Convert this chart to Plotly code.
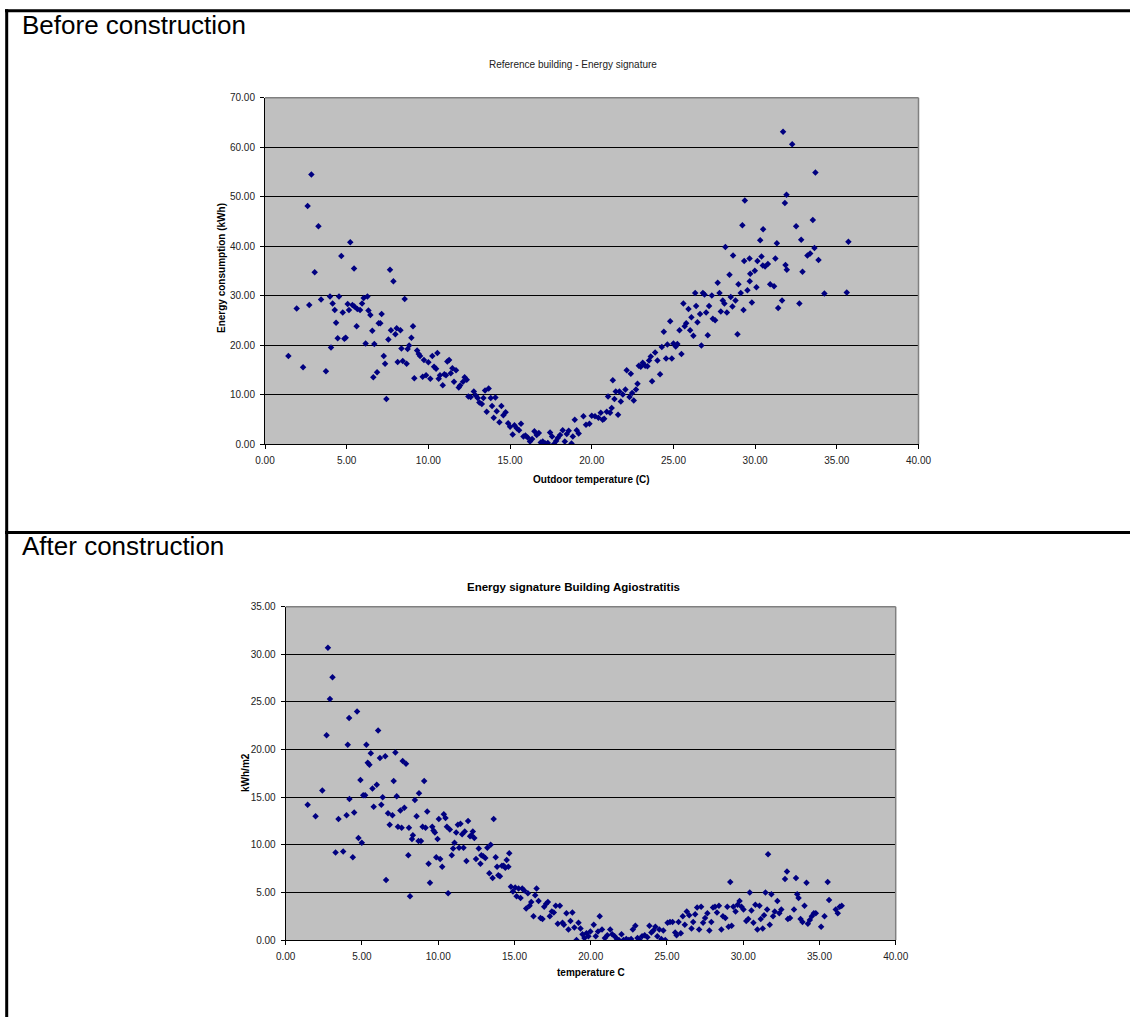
import plotly.graph_objects as go

# ---------------- data ----------------
before_points = [
    (2.84, 54.5), (2.61, 48.1), (3.27, 44.0), (5.22, 40.8), (4.67, 38.0), (5.45, 35.5), (3.04, 34.7),
    (7.65, 35.2), (7.86, 32.9),
    (1.43, 17.8), (1.94, 27.4), (2.33, 15.5), (2.71, 28.1), (3.43, 29.2), (3.73, 14.7), (3.98, 29.8),
    (4.04, 19.5), (4.14, 28.4), (4.27, 27.1), (4.35, 24.5), (4.45, 21.4), (4.53, 29.8), (4.76, 26.6),
    (4.86, 21.3), (4.94, 21.5), (5.06, 28.3), (5.14, 27.1), (5.35, 28.1), (5.47, 27.8), (5.61, 23.8),
    (5.65, 27.3), (5.82, 27.1), (5.94, 28.4), (6.04, 29.5), (6.16, 20.3), (6.27, 29.8), (6.33, 27.0),
    (6.45, 26.1), (6.57, 22.9), (6.63, 13.5), (6.69, 20.2), (6.86, 14.5), (6.96, 24.4), (7.06, 24.4),
    (7.14, 26.3), (7.27, 17.8), (7.35, 16.2), (7.43, 9.1), (7.55, 21.1), (7.71, 23.0), (7.98, 22.2),
    (8.06, 23.4), (8.12, 16.6), (8.29, 23.0), (8.35, 19.3), (8.43, 16.8), (8.55, 29.3), (8.67, 16.2),
    (8.73, 19.2), (8.82, 19.9), (8.96, 21.5), (9.06, 23.8), (9.14, 13.3), (9.31, 18.9), (9.41, 18.2),
    (9.49, 17.8), (9.65, 13.6), (9.73, 17.0), (9.86, 13.9), (10.0, 16.5), (10.12, 13.2), (10.24, 17.8),
    (10.35, 15.6), (10.47, 15.2), (10.55, 18.4), (10.63, 13.2), (10.71, 13.9), (10.88, 11.9),
    (10.98, 14.1), (11.08, 13.9), (11.16, 16.7), (11.27, 17.0), (11.37, 14.3), (11.47, 15.3),
    (11.57, 12.6), (11.69, 14.9), (11.86, 11.4), (11.94, 11.8), (12.12, 12.6), (12.22, 13.5),
    (12.35, 13.0), (12.45, 9.6), (12.59, 9.5), (12.78, 10.6), (12.90, 9.8), (13.02, 9.3), (13.12, 8.4),
    (13.27, 8.1), (13.37, 9.3), (13.47, 10.8), (13.57, 6.5), (13.69, 11.2), (13.82, 9.3), (13.90, 7.7),
    (14.0, 5.3), (14.1, 9.4), (14.18, 6.6), (14.35, 4.4), (14.47, 7.7), (14.59, 5.8), (14.73, 6.4),
    (14.88, 4.2), (15.0, 3.5), (15.16, 1.9), (15.27, 3.8), (15.41, 3.2), (15.55, 2.8), (15.67, 4.1),
    (15.82, 1.5), (15.94, 1.7), (16.08, 1.3), (16.22, 0.5), (16.35, 1.0), (16.49, 2.6), (16.63, 1.8),
    (16.76, 2.2), (16.88, 0.3), (17.0, 0.5), (17.16, 0.1), (17.31, 0.2), (17.45, 2.3), (17.57, 1.5),
    (17.69, 0.0), (17.82, 0.6), (17.92, 1.2), (18.06, 1.8), (18.22, 2.8), (18.35, 0.5), (18.47, 2.0),
    (18.59, 2.7), (18.76, 0.1), (18.84, 1.5), (18.96, 4.9), (19.08, 2.8), (19.2, 2.1),
    (19.49, 5.6), (19.65, 3.9), (19.86, 4.1), (20.0, 5.7), (20.2, 5.6), (20.41, 5.3), (20.55, 6.3),
    (20.67, 4.9), (20.76, 5.1), (20.92, 6.5), (21.0, 9.6), (21.12, 6.3), (21.22, 7.3), (21.29, 12.9),
    (21.39, 9.1), (21.47, 10.6), (21.61, 5.9), (21.69, 10.6), (21.78, 8.6), (21.90, 10.0), (22.06, 11.0),
    (22.14, 14.9), (22.31, 9.5), (22.39, 14.2), (22.47, 10.3), (22.57, 8.8), (22.71, 11.0),
    (22.80, 12.2), (22.88, 15.8), (23.0, 15.6), (23.12, 16.4), (23.27, 15.8), (23.41, 15.7),
    (23.51, 16.9), (23.61, 17.7), (23.69, 12.7), (23.88, 18.5), (24.02, 16.9), (24.18, 14.1),
    (24.29, 19.6), (24.41, 22.7), (24.55, 17.3), (24.63, 20.1), (24.80, 24.8), (24.90, 17.3),
    (25.0, 20.3), (25.14, 19.7), (25.24, 20.2), (25.37, 23.0), (25.49, 18.2), (25.61, 28.4),
    (25.69, 23.8), (25.78, 24.4), (25.92, 27.3), (26.02, 23.0), (26.10, 25.6), (26.22, 21.9),
    (26.33, 30.5), (26.39, 27.9), (26.47, 24.6), (26.63, 26.3), (26.71, 19.9), (26.80, 30.5),
    (26.90, 30.2), (27.0, 26.6), (27.10, 22.0), (27.18, 27.9), (27.35, 30.0), (27.41, 25.3),
    (27.55, 25.0), (27.82, 30.5), (27.90, 26.8), (28.02, 29.0), (28.12, 28.4), (28.27, 26.6),
    (28.51, 29.7), (28.61, 27.8), (28.80, 29.0), (28.92, 22.2), (29.12, 30.5), (29.29, 27.1),
    (29.80, 28.6), (31.41, 27.5), (31.65, 29.0), (32.71, 28.4), (34.24, 30.4), (35.61, 30.6),
    (31.71, 63.1), (32.27, 60.6), (33.69, 54.9), (29.37, 49.2), (31.92, 50.4), (31.82, 48.7),
    (29.22, 44.2), (30.49, 43.4), (32.51, 44.0), (33.53, 45.3), (30.31, 41.2), (31.33, 40.6),
    (32.82, 41.3), (35.71, 40.9), (28.18, 39.8), (28.65, 38.1), (33.63, 39.6), (33.20, 38.1),
    (33.37, 38.5), (29.33, 37.0), (29.66, 37.5), (30.14, 37.0), (30.39, 37.9), (31.24, 37.5),
    (30.47, 36.1), (30.61, 35.9), (30.78, 36.4), (31.86, 36.2), (31.94, 35.2), (33.88, 37.2),
    (28.43, 34.2), (29.98, 35.0), (29.70, 34.4), (32.90, 34.8), (27.71, 32.6), (28.98, 32.3),
    (29.67, 32.9), (30.08, 31.7), (30.92, 32.3), (31.16, 31.9), (29.53, 31.1),
]
before_temp = [p[0] for p in before_points]
before_kwh = [p[1] for p in before_points]

after_points = [
    (2.77, 30.7), (3.07, 27.6), (2.90, 25.3), (2.68, 21.5), (4.16, 23.3), (4.68, 24.0), (4.07, 20.5),
    (5.29, 20.5), (6.06, 22.0), (5.58, 19.6), (5.38, 18.6), (5.49, 18.4), (6.18, 19.1), (6.53, 19.3),
    (7.19, 19.7), (7.67, 18.8), (7.89, 18.5),
    (1.44, 14.2), (1.96, 13.0), (2.40, 15.7), (3.27, 9.2), (3.46, 12.7), (3.77, 9.3), (3.99, 13.1),
    (4.18, 14.8), (4.40, 8.7), (4.49, 13.4), (4.77, 10.7), (4.90, 16.8), (4.99, 10.2), (5.08, 15.2),
    (5.21, 15.2), (5.69, 15.9), (5.77, 14.0), (5.97, 16.3), (6.27, 14.2), (6.36, 15.0), (6.58, 6.3),
    (6.71, 13.3), (6.82, 12.1), (7.0, 13.1), (7.08, 16.7), (7.28, 15.1), (7.36, 11.9), (7.52, 13.6),
    (7.60, 11.8), (7.78, 13.9), (8.04, 8.9), (8.08, 11.8), (8.15, 4.6), (8.28, 10.6), (8.34, 11.0),
    (8.47, 14.7), (8.58, 13.0), (8.71, 10.4), (8.74, 15.4), (8.87, 10.4), (8.98, 11.9), (9.08, 16.7),
    (9.17, 11.8), (9.28, 13.5), (9.37, 8.0), (9.46, 6.0), (9.61, 11.9), (9.69, 11.5), (9.78, 11.3),
    (9.87, 8.7), (9.96, 10.6), (10.04, 12.7), (10.13, 8.5), (10.26, 7.7), (10.37, 13.2), (10.48, 12.8),
    (10.57, 11.9), (10.65, 4.9), (10.76, 11.6), (10.89, 8.9), (10.98, 9.6), (11.07, 10.2),
    (11.18, 11.3), (11.29, 12.1), (11.37, 9.7), (11.46, 12.2), (11.57, 11.1), (11.66, 9.7),
    (11.74, 11.4), (11.85, 8.3), (11.96, 12.5), (12.09, 10.9), (12.18, 11.0), (12.27, 11.4),
    (12.37, 10.7), (12.48, 8.5), (12.66, 9.6), (12.77, 8.0), (12.83, 8.9), (12.96, 8.8), (13.09, 8.6),
    (13.22, 9.7), (13.35, 7.0), (13.44, 10.0), (13.57, 6.5), (13.64, 12.7), (13.77, 8.7), (13.86, 7.7),
    (13.94, 6.8), (14.05, 6.7), (14.18, 7.8), (14.29, 7.8), (14.40, 7.6), (14.49, 8.4), (14.60, 7.7),
    (14.66, 9.1), (14.77, 5.6), (14.90, 5.1), (15.05, 5.5), (15.14, 4.6), (15.27, 5.4), (15.40, 4.4),
    (15.51, 5.4), (15.64, 5.2), (15.77, 3.3), (15.88, 4.9), (15.99, 3.6), (16.10, 4.0), (16.25, 2.5),
    (16.36, 4.7), (16.45, 5.4), (16.58, 4.1), (16.71, 2.3), (16.84, 2.2), (16.95, 3.5), (17.08, 3.8),
    (17.19, 4.0), (17.32, 2.5), (17.45, 3.0), (17.58, 2.9), (17.71, 3.6), (17.84, 1.7),
    (17.98, 3.6), (18.15, 1.8), (18.24, 1.6), (18.41, 2.8), (18.54, 1.1), (18.67, 2.0), (18.80, 2.9),
    (18.93, 1.3), (19.07, 0.0), (19.20, 1.8), (19.33, 1.2), (19.46, 0.6), (19.59, 0.2), (19.72, 0.7),
    (19.85, 0.4), (19.98, 0.9), (20.20, 1.6), (20.33, 0.4), (20.48, 0.9), (20.59, 2.5), (20.74, 1.1),
    (20.93, 0.2), (21.09, 0.5), (21.28, 1.1), (21.41, 0.6), (21.57, 0.4), (21.72, 0.1), (21.85, 0.0),
    (22.02, 0.6), (22.15, 0.0), (22.33, 0.1), (22.50, 0.0), (22.65, 0.1), (22.76, 1.1), (22.93, 1.5),
    (23.07, 0.2), (23.20, 0.0), (23.37, 0.4), (23.54, 0.5), (23.72, 0.3), (23.85, 1.5), (23.98, 0.8),
    (24.11, 1.0), (24.24, 1.4), (24.37, 0.4), (24.50, 1.1), (24.63, 0.1), (24.76, 1.0), (24.89, 0.0),
    (25.04, 1.8), (25.20, 1.9), (25.37, 1.9), (25.54, 0.8), (25.63, 0.5), (25.76, 1.9), (25.91, 0.7),
    (26.04, 2.5), (26.17, 1.6), (26.30, 3.0), (26.46, 2.6), (26.61, 1.2), (26.72, 1.9), (26.85, 2.7),
    (26.98, 3.4), (27.11, 1.1), (27.24, 3.5), (27.37, 1.8), (27.50, 2.3), (27.65, 2.8), (27.78, 1.0),
    (27.91, 1.9), (28.02, 3.4), (28.15, 3.5), (28.28, 2.9), (28.41, 3.6), (28.57, 1.1), (28.67, 2.5),
    (28.83, 2.3), (28.96, 3.5), (29.04, 1.4), (29.15, 6.1), (29.24, 1.5), (29.35, 3.5), (29.50, 3.0),
    (29.63, 3.7), (29.76, 4.1), (29.89, 3.5), (30.02, 3.2), (30.20, 2.0), (30.33, 2.2), (30.43, 5.0),
    (30.54, 3.1), (30.67, 1.8), (30.80, 3.7), (30.93, 1.1), (31.07, 3.6), (31.15, 2.2), (31.28, 1.2),
    (31.37, 2.6), (31.46, 5.0), (31.57, 3.2), (31.63, 9.0), (31.74, 1.6), (31.85, 4.8), (31.96, 2.5),
    (32.07, 3.0), (32.24, 4.1), (32.37, 2.8), (32.50, 3.2), (32.74, 6.4), (32.87, 7.2), (32.93, 2.2),
    (33.07, 2.3), (33.33, 3.2), (33.46, 6.5), (33.54, 4.8), (33.63, 4.4), (33.76, 2.2), (33.89, 1.9),
    (34.02, 3.6), (34.15, 6.0), (34.24, 1.7), (34.37, 2.1), (34.50, 2.5), (34.63, 2.8), (34.76, 2.8),
    (35.11, 1.4), (35.33, 2.5), (35.54, 6.1), (35.63, 4.2), (36.07, 3.2), (36.20, 2.8), (36.33, 3.5),
    (36.46, 3.6),
]
after_temp = [p[0] for p in after_points]
after_kwh = [p[1] for p in after_points]

x_ticks = [0, 5, 10, 15, 20, 25, 30, 35, 40]
before_y_ticks = [0, 10, 20, 30, 40, 50, 60, 70]
after_y_ticks = [0, 5, 10, 15, 20, 25, 30, 35]

# ---------------- layout helpers ----------------
W, H = 1130, 1017
def fx(p):
    return p / W
def fy(p):
    return 1 - p / H

FONT = "Liberation Sans, Arial, sans-serif"
NAVY = "#000080"
TICK_FONT = dict(family=FONT, size=10, color="#222222")

fig = go.Figure()
fig.add_trace(go.Scatter(x=before_temp, y=before_kwh, mode="markers",
                         marker=dict(symbol="diamond", size=5, color=NAVY, line=dict(width=0)),
                         xaxis="x", yaxis="y", showlegend=False, hoverinfo="x+y"))
fig.add_trace(go.Scatter(x=after_temp, y=after_kwh, mode="markers",
                         marker=dict(symbol="diamond", size=5, color=NAVY, line=dict(width=0)),
                         xaxis="x2", yaxis="y2", showlegend=False, hoverinfo="x+y"))

def xax(domain, anchor):
    return dict(domain=domain, anchor=anchor, range=[0, 40], tickmode="array",
                tickvals=x_ticks, ticktext=[f"{v:.2f}" for v in x_ticks],
                showgrid=False, zeroline=False, showline=True, linecolor="black", linewidth=1,
                ticks="outside", ticklen=4, tickcolor="black", tickwidth=1, automargin=False,
                ticklabelstandoff=3, tickfont=TICK_FONT, fixedrange=True)

def yax(domain, anchor, ticks, top):
    return dict(domain=domain, anchor=anchor, range=[0, top], tickmode="array",
                tickvals=ticks, ticktext=[f"{v:.2f}" for v in ticks],
                showgrid=True, gridcolor="black", gridwidth=1, zeroline=False,
                showline=True, linecolor="black", linewidth=1, automargin=False,
                ticks="outside", ticklen=4, tickcolor="black", tickwidth=1,
                ticklabelstandoff=3, tickfont=TICK_FONT, fixedrange=True)

# plot-area pixel boxes
T_L, T_R, T_T, T_B = 265, 918.5, 97.7, 444
B_L, B_R, B_T, B_B = 285.7, 895.7, 606.7, 940

fig.update_layout(
    width=W, height=H, margin=dict(l=0, r=0, t=0, b=0, pad=0, autoexpand=False),
    paper_bgcolor="white", plot_bgcolor="#C0C0C0",
    xaxis=xax([fx(T_L), fx(T_R)], "y"),
    yaxis=yax([fy(T_B), fy(T_T)], "x", before_y_ticks, 70),
    xaxis2=xax([fx(B_L), fx(B_R)], "y2"),
    yaxis2=yax([fy(B_B), fy(B_T)], "x2", after_y_ticks, 35),
    showlegend=False,
)

shapes = []
# grey top/right border of each plot area
for xr, yr in (("x domain", "y domain"), ("x2 domain", "y2 domain")):
    shapes.append(dict(type="line", xref=xr, yref=yr, x0=0, x1=1, y0=1, y1=1,
                       line=dict(color="#808080", width=1.5), layer="above"))
    shapes.append(dict(type="line", xref=xr, yref=yr, x0=1, x1=1, y0=0, y1=1,
                       line=dict(color="#808080", width=1.5), layer="above"))
# outer table frame
shapes.append(dict(type="line", xref="paper", yref="paper", x0=fx(5), x1=1, y0=fy(10.7), y1=fy(10.7),
                   line=dict(color="black", width=3)))
shapes.append(dict(type="line", xref="paper", yref="paper", x0=fx(5), x1=1, y0=fy(532.5), y1=fy(532.5),
                   line=dict(color="black", width=3)))
shapes.append(dict(type="line", xref="paper", yref="paper", x0=fx(6.7), x1=fx(6.7), y0=fy(9.2), y1=0,
                   line=dict(color="black", width=3)))
fig.update_layout(shapes=shapes)

def ann(text, x, y, size, bold=False, angle=0, xanchor="center", color="black"):
    t = f"<b>{text}</b>" if bold else text
    return dict(text=t, x=fx(x), y=fy(y), xref="paper", yref="paper", showarrow=False,
                xanchor=xanchor, yanchor="middle", textangle=angle,
                font=dict(family=FONT, size=size, color=color))

annotations = [
    ann("Before construction", 20, 25.5, 26, xanchor="left"),
    ann("After construction", 20, 546, 26, xanchor="left"),
    ann("Reference building - Energy signature", 572.5, 64.7, 10, color="#222222"),
    ann("Outdoor temperature (C)", 591.5, 479, 10, bold=True),
    ann("Energy consumption (kWh)", 221, 268, 10, bold=True, angle=-90),
    ann("Energy signature Building Agiostratitis", 573.5, 587, 11.5, bold=True),
    ann("temperature C", 591, 972, 10, bold=True),
    ann("kWh/m2", 245, 773, 10, bold=True, angle=-90),
]
fig.update_layout(annotations=annotations)

# remove the default page margin so the 1130x1017 figure fills the window exactly
page_fix = ("document.documentElement.style.margin='0';document.body.style.margin='0';"
            "document.body.style.padding='0';document.body.style.overflow='hidden';")
fig.write_html("out.html", post_script=page_fix, config={"displayModeBar": False})
